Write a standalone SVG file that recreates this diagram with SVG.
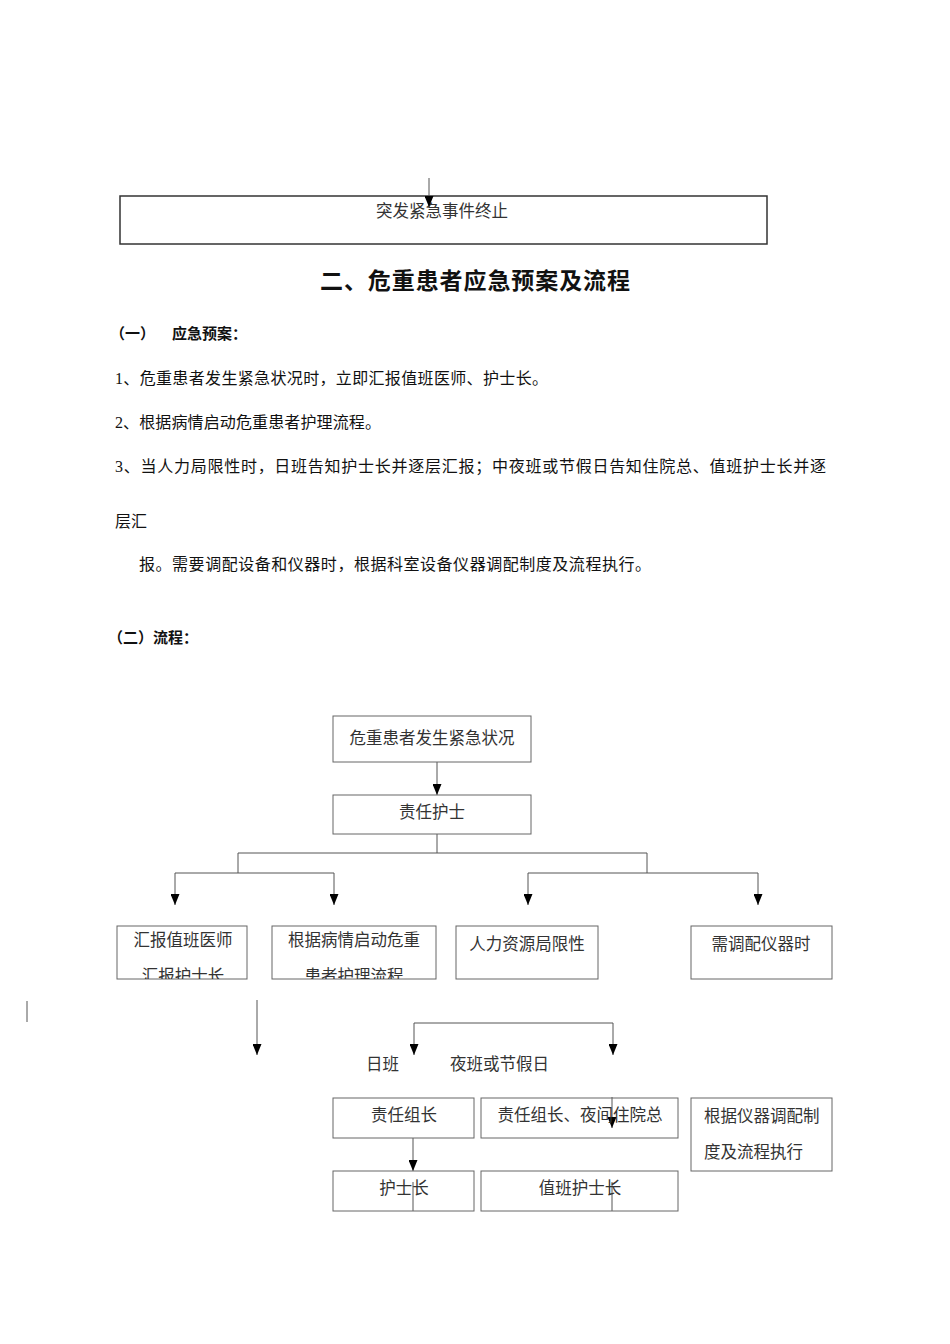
<svg xmlns="http://www.w3.org/2000/svg" width="950" height="1344" viewBox="0 0 950 1344">
<style>
text{font-family:"Liberation Serif","Noto Sans CJK SC",sans-serif;fill:#111}
.b{font-size:16.5px;fill:#333}
.m{text-anchor:middle}
.p{font-size:16px}
.h{font-weight:bold;font-size:15px}
.box{fill:none;stroke:#666;stroke-width:1}
.ln{fill:none;stroke:#555;stroke-width:1}
</style>
<defs>
<marker id="ar" viewBox="0 0 11 9" refX="11" refY="4.5" markerWidth="11" markerHeight="9" markerUnits="userSpaceOnUse" orient="auto">
<path d="M0,0 L11,4.5 L0,9 z" fill="#000"/>
</marker>
<clipPath id="cC"><rect x="117" y="926" width="130" height="53"/></clipPath>
<clipPath id="cD"><rect x="272" y="926" width="164" height="53"/></clipPath>
</defs>
<rect width="950" height="1344" fill="#fff"/>

<g id="node-end">
<rect x="120" y="196" width="647" height="48" fill="none" stroke="#333" stroke-width="1.5"/>
<text class="b m" x="442" y="217">突发紧急事件终止</text>
</g>

<g id="text-body">
<text x="475" y="289" text-anchor="middle" font-weight="bold" font-size="23" textLength="310">二、危重患者应急预案及流程</text>
<text class="h" x="110" y="339">（一）</text>
<text class="h" x="172" y="339">应急预案：</text>
<text class="p" x="115" y="384" textLength="433">1、危重患者发生紧急状况时，立即汇报值班医师、护士长。</text>
<text class="p" x="115" y="428" textLength="266">2、根据病情启动危重患者护理流程。</text>
<text class="p" x="115" y="472" textLength="711">3、当人力局限性时，日班告知护士长并逐层汇报；中夜班或节假日告知住院总、值班护士长并逐</text>
<text class="p" x="115" y="527">层汇</text>
<text class="p" x="139" y="570" textLength="512">报。需要调配设备和仪器时，根据科室设备仪器调配制度及流程执行。</text>
<text class="h" x="108" y="643">（二）流程：</text>
</g>

<g id="connectors">
<path class="ln" d="M429,178 V207" stroke="#222" marker-end="url(#ar)"/>
<path class="ln" d="M437,762 V795" marker-end="url(#ar)"/>
<path class="ln" d="M437,834 V853 M238,853 H647 M238,853 V873 M175,873 H334 M647,853 V873 M528,873 H758"/>
<path class="ln" d="M175,873 V905" marker-end="url(#ar)"/>
<path class="ln" d="M334,873 V905" marker-end="url(#ar)"/>
<path class="ln" d="M528,873 V905" marker-end="url(#ar)"/>
<path class="ln" d="M758,873 V905" marker-end="url(#ar)"/>
<path class="ln" d="M27,1001 V1022"/>
<path class="ln" d="M257,1000 V1055" marker-end="url(#ar)"/>
<path class="ln" d="M414,1023 H613"/>
<path class="ln" d="M414,1023 V1055" marker-end="url(#ar)"/>
<path class="ln" d="M613,1023 V1055" marker-end="url(#ar)"/>
<path class="ln" d="M413,1138 V1171" marker-end="url(#ar)"/>
<path class="ln" d="M612,1097 V1128" marker-end="url(#ar)"/>
<path class="ln" d="M413,1182 V1211 M612,1182 V1211"/>
</g>

<g id="node-a"><rect class="box" x="333" y="716" width="198" height="46"/><text class="b m" x="432" y="744">危重患者发生紧急状况</text></g>
<g id="node-b"><rect class="box" x="333" y="795" width="198" height="39"/><text class="b m" x="432" y="818">责任护士</text></g>
<g id="node-c"><rect class="box" x="117" y="926" width="130" height="53"/><text class="b m" x="183" y="946">汇报值班医师</text><text class="b m" x="183" y="982" clip-path="url(#cC)">汇报护士长</text></g>
<g id="node-d"><rect class="box" x="272" y="926" width="164" height="53"/><text class="b m" x="354" y="946">根据病情启动危重</text><text class="b m" x="354" y="982" clip-path="url(#cD)">患者护理流程</text></g>
<g id="node-e"><rect class="box" x="456" y="926" width="142" height="53"/><text class="b m" x="527" y="950">人力资源局限性</text></g>
<g id="node-f"><rect class="box" x="691" y="926" width="141" height="53"/><text class="b m" x="761" y="950">需调配仪器时</text></g>
<g id="label-day"><text class="b" x="366" y="1070">日班</text></g>
<g id="label-night"><text class="b" x="450" y="1070">夜班或节假日</text></g>
<g id="node-g"><rect class="box" x="333" y="1098" width="141" height="40"/><text class="b m" x="404" y="1121">责任组长</text></g>
<g id="node-h"><rect class="box" x="481" y="1098" width="197" height="40"/><text class="b m" x="580" y="1121">责任组长、夜间住院总</text></g>
<g id="node-i"><rect class="box" x="691" y="1098" width="141" height="73"/><text class="b" x="704" y="1122">根据仪器调配制</text><text class="b" x="704" y="1158">度及流程执行</text></g>
<g id="node-j"><rect class="box" x="333" y="1171" width="141" height="40"/><text class="b m" x="404" y="1194">护士长</text></g>
<g id="node-k"><rect class="box" x="481" y="1171" width="197" height="40"/><text class="b m" x="580" y="1194">值班护士长</text></g>
</svg>
